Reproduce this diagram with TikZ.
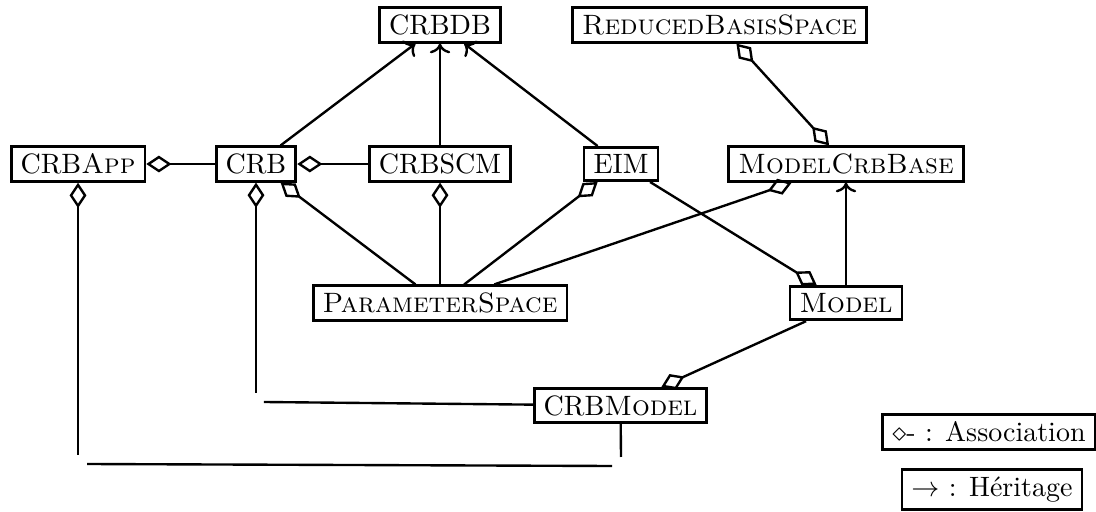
\documentclass[tikz,border=0pt]{standalone}
\usepackage{amsfonts,amsmath,amssymb}
\usepackage{tikz}
\usetikzlibrary{arrows.meta}

\tikzset{
    agg/.style={{Diamond[open,length=9pt,width=6pt]}-},
    aggboth/.style={{Diamond[open,length=9pt,width=6pt]}-{Diamond[open,length=9pt,width=6pt]}},
}

\begin{document}
\begin{tikzpicture}[line width=0.85pt]
    \useasboundingbox (0, 0) rectangle (13.752, 6.412);
    \draw[every node/.style={rectangle, draw, line width=1pt, inner xsep=3.4pt, inner ysep=2.5pt}]
        (5.521, 6.098) node (crbdb){CRBDB}
        (9.028, 6.098) node (rbspace){\textsc{ReducedBasisSpace}}
        (0.979, 4.354) node (crbapp){CRB\textsc{App}}
        (3.212, 4.354) node (crb){CRB}
        (5.521, 4.354) node (crbscm){CRBSCM}
        (7.792, 4.354) node (eim){EIM}
        (10.615, 4.354) node (mcrbbase){\textsc{ModelCrbBase}}
        (5.521, 2.610) node (pspace){\textsc{ParameterSpace}}
        (10.615, 2.610) node (model){\textsc{Model}}
        (7.786, 1.324) node (crbmodel){CRB\textsc{Model}}
        (12.409, 0.991) node (assoc){$\diamond$- : Association}
        (12.447, 0.270) node (herit){$\rightarrow$ : Héritage};
    \coordinate (append) at (0.979, 0.703);
    \coordinate (crbend) at (3.212, 1.481);
    \coordinate (crbstart) at (3.312, 1.368);
    \coordinate (botstart) at (1.092, 0.590);
    \coordinate (botend) at (7.679, 0.565);
    \coordinate (modend) at (7.792, 0.678);
    \begin{scope}[->]
        \draw (crb) to (crbdb);
        \draw (crbscm) to (crbdb);
        \draw (eim) to (crbdb);
        \draw (model) to (mcrbbase);
    \end{scope}
    \begin{scope}[agg]
        \draw (crbapp) to (crb);
        \draw (crb) to (crbscm);
        \draw (crb) to (pspace);
        \draw (crbscm) to (pspace);
        \draw (eim) to (pspace);
        \draw (mcrbbase) to (pspace);
        \draw (model) to (eim);
        \draw (crbmodel) to (model);
        \draw (crbapp) to (append);
        \draw (crb) to (crbend);
    \end{scope}
    \draw[aggboth] (rbspace) to (mcrbbase);
    \begin{scope}[-]
        \draw (crbstart) to (crbmodel);
        \draw (crbmodel) to (modend);
        \draw (botstart) to (botend);
    \end{scope}
\end{tikzpicture}
\end{document}
